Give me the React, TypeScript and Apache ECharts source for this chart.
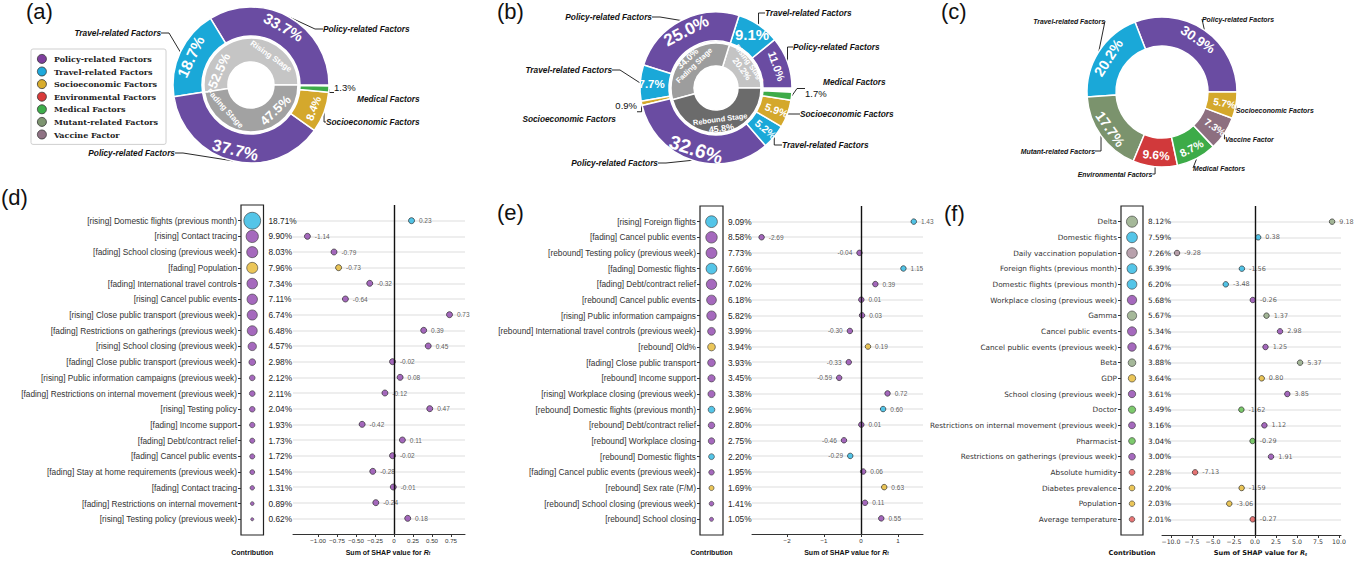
import React, { useEffect, useRef } from 'react';
import * as echarts from 'echarts';

// ---------------- categories ----------------
const categoryKeys = ['P', 'T', 'S', 'E', 'M', 'U', 'V'];
const categoryNames = [
  'Policy-related Factors',
  'Travel-related Factors',
  'Socioeconomic Factors',
  'Environmental Factors',
  'Medical Factors',
  'Mutant-related Factors',
  'Vaccine Factor',
];

// ---------------- donut (a) ----------------
const aStageNames = ['Rising Stage', 'Fading Stage'];
const aStageValues = [52.5, 47.5];
const aSliceCats = ['P', 'T', 'P', 'S', 'M'];
const aSliceValues = [33.7, 18.7, 37.7, 8.4, 1.3];

// ---------------- donut (b) ----------------
const bStageNames = ['Rising Stage', 'Fading Stage', 'Rebound Stage'];
const bStageValues = [20.2, 34.0, 45.8];
const bSliceCats = ['P', 'T', 'P', 'T', 'S', 'P', 'T', 'S', 'M'];
const bSliceValues = [11.0, 9.1, 25.0, 7.7, 0.9, 32.6, 5.2, 5.9, 1.7];

// ---------------- donut (c) ----------------
const cSliceCats = ['P', 'T', 'U', 'E', 'M', 'V', 'S'];
const cSliceValues = [30.9, 20.2, 17.7, 9.6, 8.7, 7.3, 5.7];

// ---------------- panel (d) ----------------
const dFeatures = [
  '[rising] Domestic flights (previous month)',
  '[rising] Contact tracing',
  '[fading] School closing (previous week)',
  '[fading] Population',
  '[fading] International travel controls',
  '[rising] Cancel public events',
  '[rising] Close public transport (previous week)',
  '[fading] Restrictions on gatherings (previous week)',
  '[rising] School closing (previous week)',
  '[fading] Close public transport (previous week)',
  '[rising] Public information campaigns (previous week)',
  '[fading] Restrictions on internal movement (previous week)',
  '[rising] Testing policy',
  '[fading] Income support',
  '[fading] Debt/contract relief',
  '[fading] Cancel public events',
  '[fading] Stay at home requirements (previous week)',
  '[fading] Contact tracing',
  '[fading] Restrictions on internal movement',
  '[rising] Testing policy (previous week)',
];
const dContribution = [18.71, 9.9, 8.03, 7.96, 7.34, 7.11, 6.74, 6.48, 4.57, 2.98, 2.12, 2.11, 2.04, 1.93, 1.73, 1.72, 1.54, 1.31, 0.89, 0.62];
const dShap = [0.23, -1.14, -0.79, -0.73, -0.32, -0.64, 0.73, 0.39, 0.45, -0.02, 0.08, -0.12, 0.47, -0.42, 0.11, -0.02, -0.28, -0.01, -0.24, 0.18];
const dCats = ['T', 'P', 'P', 'S', 'P', 'P', 'P', 'P', 'P', 'P', 'P', 'P', 'P', 'P', 'P', 'P', 'P', 'P', 'P', 'P'];
const dTicks = [-1, -0.75, -0.5, -0.25, 0, 0.25, 0.5, 0.75];

// ---------------- panel (e) ----------------
const eFeatures = [
  '[rising] Foreign flights',
  '[fading] Cancel public events',
  '[rebound] Testing policy (previous week)',
  '[fading] Domestic flights',
  '[fading] Debt/contract relief',
  '[rebound] Cancel public events',
  '[rising] Public information campaigns',
  '[rebound] International travel controls (previous week)',
  '[rebound] Old%',
  '[fading] Close public transport',
  '[rebound] Income support',
  '[rising] Workplace closing (previous week)',
  '[rebound] Domestic flights (previous month)',
  '[rebound] Debt/contract relief',
  '[rebound] Workplace closing',
  '[rebound] Domestic flights',
  '[fading] Cancel public events (previous week)',
  '[rebound] Sex rate (F/M)',
  '[rebound] School closing (previous week)',
  '[rebound] School closing',
];
const eContribution = [9.09, 8.58, 7.73, 7.66, 7.02, 6.18, 5.82, 3.99, 3.94, 3.93, 3.45, 3.38, 2.96, 2.8, 2.75, 2.2, 1.95, 1.69, 1.41, 1.05];
const eShap = [1.43, -2.69, -0.04, 1.15, 0.39, 0.01, 0.03, -0.3, 0.19, -0.33, -0.59, 0.72, 0.6, 0.01, -0.46, -0.29, 0.06, 0.63, 0.11, 0.55];
const eCats = ['T', 'P', 'P', 'T', 'P', 'P', 'P', 'P', 'S', 'P', 'P', 'P', 'T', 'P', 'P', 'T', 'P', 'S', 'P', 'P'];
const eTicks = [-2, -1, 0, 1];

// ---------------- panel (f) ----------------
const fFeatures = [
  'Delta',
  'Domestic flights',
  'Daily vaccination population',
  'Foreign flights (previous month)',
  'Domestic flights (previous month)',
  'Workplace closing (previous week)',
  'Gamma',
  'Cancel public events',
  'Cancel public events (previous week)',
  'Beta',
  'GDP',
  'School closing (previous week)',
  'Doctor',
  'Restrictions on internal movement (previous week)',
  'Pharmacist',
  'Restrictions on gatherings (previous week)',
  'Absolute humidity',
  'Diabetes prevalence',
  'Population',
  'Average temperature',
];
const fContribution = [8.12, 7.59, 7.26, 6.39, 6.2, 5.68, 5.67, 5.34, 4.67, 3.88, 3.64, 3.61, 3.49, 3.16, 3.04, 3.0, 2.28, 2.2, 2.03, 2.01];
const fShap = [9.18, 0.38, -9.28, -1.56, -3.48, -0.26, 1.37, 2.98, 1.25, 5.37, 0.8, 3.85, -1.62, 1.12, -0.29, 1.91, -7.13, -1.59, -3.06, -0.27];
const fCats = ['U', 'T', 'V', 'T', 'T', 'P', 'U', 'P', 'P', 'U', 'S', 'P', 'M', 'P', 'M', 'P', 'E', 'S', 'S', 'E'];
const fTicks = [-10, -7.5, -5, -2.5, 0, 2.5, 5, 7.5, 10];

// ---------------- styles ----------------
const DONUT_COLOR: Record<string, string> = {
  P: '#6a4ca2', T: '#1aa8d8', S: '#d4a82c', E: '#d1393b', M: '#3dab48', U: '#7b936d', V: '#8d6f80',
};
const DOT_COLOR: Record<string, string> = {
  P: '#8e44ad', T: '#29b6e2', S: '#e6b830', E: '#e05252', M: '#5cbd49', U: '#8ea67f', V: '#a68a97',
};
const LEGEND_COLOR: Record<string, string> = {
  P: '#7e3f9d', T: '#1fa9dc', S: '#d8ac2c', E: '#d93a3a', M: '#3eae4b', U: '#7e9571', V: '#8f7284',
};
const catName = (k: string) => categoryNames[categoryKeys.indexOf(k)];
const SANS = 'Liberation Sans';

const tangentialDeg = (a: number) => {
  let r = a - 90;
  while (r > 90) r -= 180;
  while (r < -90) r += 180;
  return r;
};
const polarSpot = (center: number[], r: number, a: number) => ({
  x: center[0] + r * Math.cos((a * Math.PI) / 180),
  y: center[1] - r * Math.sin((a * Math.PI) / 180),
  align: 'center',
  verticalAlign: 'middle',
  rotate: tangentialDeg(a),
});

function innerRing(o: any) {
  const mid = (o.radius[0] + o.radius[1]) / 2;
  const common = {
    type: 'pie', center: o.center, radius: o.radius, startAngle: 0, clockwise: false, silent: true,
    avoidLabelOverlap: false, labelLine: { show: false },
  };
  const rich = {
    n: { fontFamily: SANS, fontWeight: 'bold', fontSize: o.nSize, color: '#fff', lineHeight: o.nSize + 1 },
    p: { fontFamily: SANS, fontWeight: 'bold', fontSize: o.pSize, color: '#fff', lineHeight: o.pSize + 1 },
  };
  if (o.split) {
    // name labels and percentage labels placed separately along the ring
    return [
      {
        ...common,
        itemStyle: { borderColor: '#fff', borderWidth: 1.5 },
        data: o.names.map((n: string, i: number) => ({ name: n, value: o.values[i], itemStyle: { color: o.grays[i] } })),
        label: { show: true, position: 'inside', formatter: (p: any) => `{n|${p.name}}`, rich },
        labelLayout: (params: any) => polarSpot(o.center, mid, o.split.nameAngles[params.dataIndex]),
      },
      {
        ...common,
        itemStyle: { color: 'rgba(0,0,0,0)', borderWidth: 0 },
        data: o.names.map((n: string, i: number) => ({ name: n, value: o.values[i] })),
        label: { show: true, position: 'inside', formatter: (p: any) => `{p|${p.value.toFixed(1)}%}`, rich },
        labelLayout: (params: any) => polarSpot(o.center, mid, o.split.pctAngles[params.dataIndex]),
      },
    ];
  }
  return [
    {
      ...common,
      itemStyle: { borderColor: '#fff', borderWidth: 1.5 },
      data: o.names.map((n: string, i: number) => ({ name: n, value: o.values[i], itemStyle: { color: o.grays[i] } })),
      label: {
        show: true, position: 'inside', rotate: 'tangential',
        formatter: (p: any) => {
          const pct = `{p|${p.value.toFixed(1)}%}`;
          const nm = `{n|${p.name}}`;
          return o.order[p.dataIndex] === 'pn' ? `${pct}\n${nm}` : `${nm}\n${pct}`;
        },
        rich,
      },
    },
  ];
}

function outerRing(o: any) {
  const sum = o.values.reduce((s: number, v: number) => s + v, 0);
  const gap = 100 - sum;
  const base: any[] = o.values.map((v: number, i: number) => ({
    name: catName(o.cats[i]),
    value: v,
    itemStyle: { color: DONUT_COLOR[o.cats[i]] },
    label: { show: v >= 2, fontSize: o.fonts[i], rotate: o.rot[i] ?? 'tangential' },
  }));
  const over: any[] = o.values.map((v: number, i: number) => ({
    name: catName(o.cats[i]),
    value: v,
  }));
  if (gap > 0.05) {
    base.push({ name: '', value: gap, itemStyle: { color: 'rgba(0,0,0,0)', borderWidth: 0 }, label: { show: false } });
    over.push({ name: '', value: gap, label: { show: false }, labelLine: { show: false } });
  }
  const ns = o.nameSize;
  const q = { fontFamily: SANS, fontWeight: 'bold', fontStyle: 'italic', fontSize: ns, color: '#111' };
  return [
    {
      type: 'pie', center: o.center, radius: o.radius, startAngle: 0, clockwise: false, silent: true,
      avoidLabelOverlap: false,
      itemStyle: { borderColor: '#fff', borderWidth: 1.5 },
      data: base,
      label: {
        show: true, position: 'inside', color: '#fff', fontFamily: SANS, fontWeight: 'bold',
        formatter: (p: any) => `${p.value.toFixed(1)}%`,
      },
      labelLine: { show: false },
    },
    {
      type: 'pie', center: o.center, radius: o.radius, startAngle: 0, clockwise: false, silent: true,
      avoidLabelOverlap: false,
      itemStyle: { color: 'rgba(0,0,0,0)', borderWidth: 0 },
      data: over,
      label: {
        show: true, position: 'outside', ...q,
        formatter: (p: any) => {
          const kind = o.tiny[p.dataIndex];
          if (!kind) return p.name;
          const pct = `{p|${p.value.toFixed(1)}%}`;
          if (kind === 'pctTopL') return `${pct}\n{qL|${p.name}}`;
          if (kind === 'pctTopR') return `${pct}\n{qR|${p.name}}`;
          return `{qL|${p.name}}\n${pct}`;
        },
        rich: {
          p: { fontFamily: SANS, fontWeight: 'normal', fontStyle: 'normal', fontSize: ns + 1.2, color: '#111', lineHeight: ns + 3 },
          qL: { ...q, padding: [0, 0, 0, o.padL ?? 20], lineHeight: ns + 3 },
          qR: { ...q, padding: [5, o.padR ?? 20, 0, 0], lineHeight: ns + 3 },
        },
      },
      labelLine: { show: true, length: 10, length2: 8, lineStyle: { color: '#111', width: 0.9 } },
      labelLayout: (params: any) => {
        const s = o.spots[params.dataIndex];
        if (!s) return {};
        return { x: s[0], y: s[1], align: s[2], verticalAlign: 'middle' };
      },
    },
  ];
}

function shapPanel(k: number, cfg: any, grid: any[], xAxis: any[], yAxis: any[], series: any[]) {
  const n = cfg.features.length;
  const rows = cfg.features.map((_: any, i: number) => i);
  const font = cfg.font;
  grid.push({ left: cfg.boxLeft, top: cfg.top, width: cfg.boxWidth, height: cfg.height, show: true, borderColor: '#222', borderWidth: 1.2, backgroundColor: 'transparent' });
  grid.push({ left: cfg.shapLeft, top: cfg.top, width: cfg.shapWidth, height: cfg.height });
  const gi = 2 * k;
  xAxis.push({
    gridIndex: gi, type: 'value', min: 0, max: 1,
    axisLine: { show: false }, axisTick: { show: false }, axisLabel: { show: false }, splitLine: { show: false },
    name: 'Contribution', nameLocation: 'middle', nameGap: 14,
    nameTextStyle: { fontFamily: font, fontWeight: 'bold', fontSize: cfg.nameSize, color: '#111' },
  });
  xAxis.push({
    gridIndex: gi + 1, type: 'value', min: cfg.xMin, max: cfg.xMax,
    axisLine: { show: true, onZero: false, lineStyle: { color: '#333', width: 1 } },
    axisTick: { show: true, length: 3, customValues: cfg.ticks, lineStyle: { color: '#333' } },
    axisLabel: { customValues: cfg.ticks, formatter: cfg.tickFmt, fontSize: 6.2, color: '#333', margin: 3, fontFamily: font },
    splitLine: { show: false },
    name: 'Sum of SHAP value for {r|R}{s|t}', nameLocation: 'middle', nameGap: 14,
    nameTextStyle: {
      fontFamily: font, fontWeight: 'bold', fontSize: cfg.nameSize, color: '#111', padding: [0, 0, 0, 18],
      rich: {
        r: { fontFamily: font, fontWeight: 'bold', fontStyle: 'italic', fontSize: cfg.nameSize, color: '#111' },
        s: { fontFamily: font, fontWeight: 'bold', fontStyle: 'italic', fontSize: cfg.nameSize * 0.65, color: '#111', padding: [3, 0, 0, 0] },
      },
    },
  });
  yAxis.push({
    gridIndex: gi, type: 'value', inverse: true, min: -1, max: n, interval: 1, position: 'left',
    axisLine: { show: false },
    axisTick: { show: true, length: 3, customValues: rows, lineStyle: { color: '#333' } },
    axisLabel: { customValues: rows, formatter: (v: number) => cfg.features[v] ?? '', fontSize: cfg.rowSize, color: '#333', margin: 4, fontFamily: font },
    splitLine: { show: false },
  });
  yAxis.push({
    gridIndex: gi, type: 'value', inverse: true, min: -1, max: n, interval: 1, position: 'right',
    axisLine: { show: false }, axisTick: { show: false },
    axisLabel: { customValues: rows, formatter: (v: number) => (cfg.contrib[v] != null ? cfg.contrib[v].toFixed(2) + '%' : ''), fontSize: cfg.rowSize, color: '#222', margin: 5, fontFamily: font },
    splitLine: { show: false },
  });
  yAxis.push({
    gridIndex: gi + 1, type: 'value', inverse: true, min: -1, max: n, interval: 1,
    axisLine: { show: false }, axisTick: { show: false }, axisLabel: { show: false },
    splitLine: { show: true, showMinLine: false, showMaxLine: false, lineStyle: { color: '#e8e8e8', width: 1.5 } },
  });
  series.push({
    type: 'scatter', xAxisIndex: gi, yAxisIndex: 3 * k, silent: true,
    data: cfg.contrib.map((c: number, i: number) => ({
      value: [0.5, i], symbolSize: 3.9 * Math.sqrt(c),
      itemStyle: { color: DOT_COLOR[cfg.cats[i]], borderColor: '#3a3a3a', borderWidth: 0.8 },
    })),
  });
  series.push({
    type: 'scatter', xAxisIndex: gi + 1, yAxisIndex: 3 * k + 2, silent: true, symbolSize: cfg.dot,
    data: cfg.shap.map((v: number, i: number) => ({
      value: [v, i],
      itemStyle: { color: DOT_COLOR[cfg.cats[i]], borderColor: '#1a1a1a', borderWidth: 0.8 },
      label: { position: cfg.side(v) },
    })),
    label: {
      show: true, distance: 4, fontSize: 6.5, color: '#333', fontFamily: font,
      formatter: (p: any) => p.value[0].toFixed(2),
    },
    markLine: {
      silent: true, symbol: ['none', 'none'], label: { show: false },
      lineStyle: { color: '#111', width: 1.4, type: 'solid' },
      data: [{ xAxis: 0 }],
    },
    z: 3,
  });
}

function buildOption() {
  const series: any[] = [];
  const grid: any[] = [];
  const xAxis: any[] = [];
  const yAxis: any[] = [];

  // ---- donut (a)
  const aCenter = [251, 85];
  series.push(...innerRing({
    center: aCenter, radius: [23, 47], names: aStageNames, values: aStageValues, grays: ['#c5c5c5', '#a2a2a2'],
    nSize: 8, pSize: 13, split: { nameAngles: [55, 222], pctAngles: [156, 314] },
  }));
  series.push(...outerRing({
    center: aCenter, radius: [49, 78], cats: aSliceCats, values: aSliceValues,
    fonts: [15, 15.5, 16.5, 11, 0], rot: {},
    spots: [[323, 29, 'left'], [161, 33, 'right'], [175, 153, 'right'], [326, 122, 'left'], [334, 93, 'left']],
    tiny: { 4: 'pctTopL' }, nameSize: 8.3, padL: 23,
  }));
  // ---- donut (b)
  series.push(...innerRing({
    center: [716, 88], radius: [22, 45], names: bStageNames, values: bStageValues, grays: ['#c4c4c4', '#9d9d9d', '#6b6b6b'],
    order: ['np', 'pn', 'np'], nSize: 7.5, pSize: 9,
  }));
  series.push(...outerRing({
    center: [716, 88], radius: [47, 76], cats: bSliceCats, values: bSliceValues,
    fonts: [11, 15, 17, 11.5, 0, 19.5, 10.5, 10.5, 0], rot: { 1: 0, 3: 0, 6: 'radial', 7: 'radial' },
    spots: [[793, 47, 'left'], [765, 13, 'left'], [652, 17, 'right'], [612, 70, 'right'], [637, 111, 'right'], [658, 163, 'right'], [782, 145, 'left'], [800, 114, 'left'], [805, 88, 'left']],
    tiny: { 4: 'pctTopR', 8: 'nameTopL' }, nameSize: 8.3, padL: 18, padR: 21,
  }));
  // ---- donut (c)
  series.push(...outerRing({
    center: [1162, 92], radius: [46, 75], cats: cSliceCats, values: cSliceValues,
    fonts: [13.5, 14.5, 14, 12, 11, 10, 10], rot: { 5: 'radial', 6: 'radial' },
    spots: [[1202, 19, 'left'], [1105, 21, 'right'], [1095, 151, 'right'], [1115, 174, 'center'], [1193, 168, 'left'], [1225, 139, 'left'], [1236, 110, 'left']],
    tiny: {}, nameSize: 6.9,
  }));

  const dFmt = (v: number) => (v === 0 ? '0' : v.toFixed(2).replace('-', '\u2212'));
  const eFmt = (v: number) => String(v).replace('-', '\u2212');
  const fFmt = (v: number) => v.toFixed(1).replace('-', '\u2212');

  shapPanel(0, {
    features: dFeatures, contrib: dContribution, shap: dShap, cats: dCats, ticks: dTicks, tickFmt: dFmt,
    xMin: -1.33, xMax: 0.934, boxLeft: 241, boxWidth: 22.5, shapLeft: 293, shapWidth: 172, top: 205, height: 335,
    font: SANS, rowSize: 8.3, nameSize: 7, dot: 6, side: () => 'right',
  }, grid, xAxis, yAxis, series);
  shapPanel(1, {
    features: eFeatures, contrib: eContribution, shap: eShap, cats: eCats, ticks: eTicks, tickFmt: eFmt,
    xMin: -2.95, xMax: 1.68, boxLeft: 700, boxWidth: 23, shapLeft: 752, shapWidth: 171, top: 206, height: 334,
    font: SANS, rowSize: 8.3, nameSize: 7, dot: 5.5, side: (v: number) => (v < 0 && v > -1 ? 'left' : 'right'),
  }, grid, xAxis, yAxis, series);
  shapPanel(2, {
    features: fFeatures, contrib: fContribution, shap: fShap, cats: fCats, ticks: fTicks, tickFmt: fFmt,
    xMin: -11.07, xMax: 10.24, boxLeft: 1121, boxWidth: 22, shapLeft: 1162, shapWidth: 179, top: 206, height: 335,
    font: 'DejaVu Sans', rowSize: 7.3, nameSize: 6.6, dot: 5.5, side: () => 'right',
  }, grid, xAxis, yAxis, series);

  const letters: [string, number, number][] = [
    ['(a)', 26, 0], ['(b)', 497, 0], ['(c)', 941, 0], ['(d)', 1, 186], ['(e)', 497, 201], ['(f)', 944, 202],
  ];

  return {
    animation: false,
    backgroundColor: '#fff',
    legend: {
      orient: 'vertical', left: 31, top: 49, icon: 'circle', selectedMode: false,
      itemWidth: 14, itemHeight: 9, itemGap: 2.8, padding: [5, 8, 5, 6],
      borderColor: '#cfcfcf', borderWidth: 1, borderRadius: 2, backgroundColor: '#fff',
      itemStyle: { borderColor: '#333', borderWidth: 0.8 },
      textStyle: { fontFamily: 'DejaVu Serif', fontWeight: 'bold', fontSize: 8, color: '#222' },
      data: categoryKeys.map((k) => ({ name: catName(k), itemStyle: { color: LEGEND_COLOR[k] } })),
    },
    grid, xAxis, yAxis, series,
    graphic: letters.map(([t, x, y]) => ({
      type: 'text', left: x, top: y, silent: true,
      style: { text: t, fontSize: 22, fontFamily: SANS, fill: '#111' },
    })),
  };
}

export default function App() {
  const ref = useRef<HTMLDivElement>(null);
  useEffect(() => {
    const chart = echarts.init(ref.current as HTMLDivElement, null, { renderer: 'svg' });
    chart.setOption(buildOption() as any);
    return () => chart.dispose();
  }, []);
  return <div ref={ref} style={{ position: 'absolute', left: 0, top: 0, width: 1356, height: 561, background: '#fff' }} />;
}
